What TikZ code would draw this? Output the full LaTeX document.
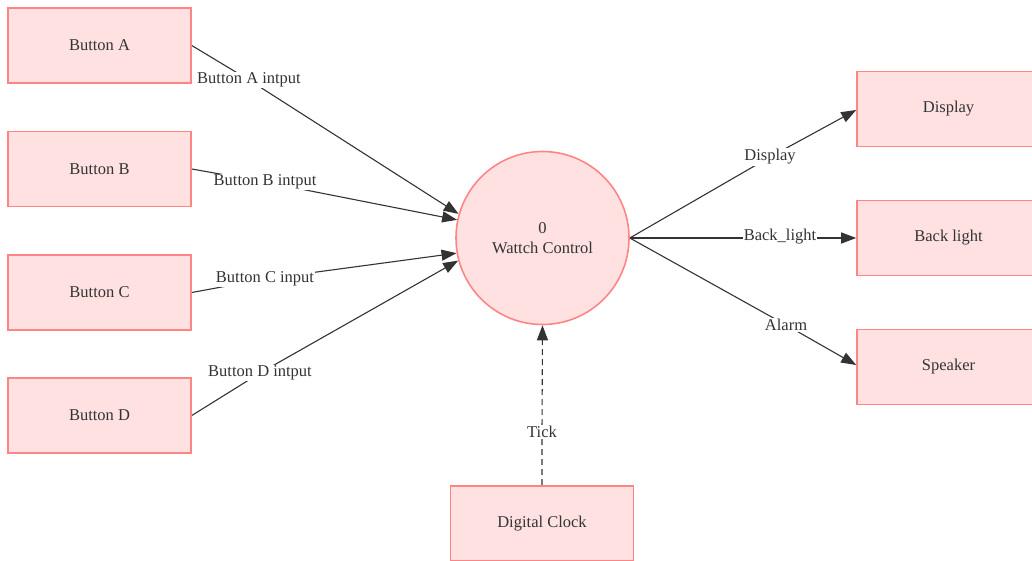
\documentclass[tikz,border=0pt]{standalone}
\usepackage{fontspec}
\setmainfont{Liberation Serif}
\usetikzlibrary{arrows.meta,backgrounds}
\definecolor{boxfill}{HTML}{FFE1E1}
\definecolor{boxline}{HTML}{FF8585}
\definecolor{ink}{HTML}{333333}
\begin{document}
\begin{tikzpicture}[x=1pt,y=-1pt,
  every node/.style={font=\fontsize{16.5}{20.5}\selectfont, text=ink},
  entity/.style={draw=boxline, fill=boxfill, line width=1.6pt,
    minimum width=183pt, minimum height=75pt, inner sep=0pt},
  proc/.style={circle, draw=boxline, fill=boxfill, line width=1.6pt,
    minimum size=173pt, align=center, inner sep=0pt},
  flow/.style={draw=ink, line width=1.1pt, -{Triangle[length=15pt,width=11pt]}},
  lbl/.style={fill=white, inner sep=1pt}]
\useasboundingbox (0,0) rectangle (1032,561);
\clip (0,0) rectangle (1032,561);

% external entities and the central process
\node[entity] (bA) at (99.5,45.5) {Button A};
\node[entity] (bB) at (99.5,169) {Button B};
\node[entity] (bC) at (99.5,292.5) {Button C};
\node[entity] (bD) at (99.5,415.5) {Button D};
\node[proc] (wc) at (542.5,238) {0\\Wattch Control};
\node[entity] (disp) at (948.5,109) {Display};
\node[entity] (bl) at (948.5,238) {Back light};
\node[entity] (spk) at (948.5,367) {Speaker};
\node[entity] (clk) at (542,523.5) {Digital Clock};

% flow labels
\node[lbl] (lA) at (249,80) {Button A intput};
\node[lbl] (lB) at (265,182) {Button B intput};
\node[lbl] (lC) at (265,279) {Button C input};
\node[lbl] (lD) at (260,373) {Button D intput};
\node[lbl] (lDisp) at (770,157) {Display};
\node[lbl, inner sep=0.5pt] (lBl) at (780,237) {Back\_light};
\node[lbl] (lAl) at (786,325) {Alarm};
\node[lbl] (lT) at (542,431.5) {Tick};

% data flows
\begin{scope}[on background layer]
\draw[flow] (bA.east) -- (lA.center) -- (wc.164);
\draw[flow] (bB.east) -- (lB.center) -- (wc.168);
\draw[flow] (bC.east) -- (lC.center) -- (wc.190);
\draw[flow] (bD.east) -- (lD.center) -- (wc.195);
\draw[flow] (wc.east) -- (lDisp.center) -- (disp.west |- 0,110);
\draw[flow] (wc.east) -- (lBl.center |- wc.east) -- (bl.west);
\draw[flow] (wc.east) -- (lAl.center) -- (spk.west |- 0,365);
\draw[flow, dash pattern=on 6pt off 4pt] (clk.north) -- (lT.center) -- (wc.south);
\end{scope}
\end{tikzpicture}
\end{document}
